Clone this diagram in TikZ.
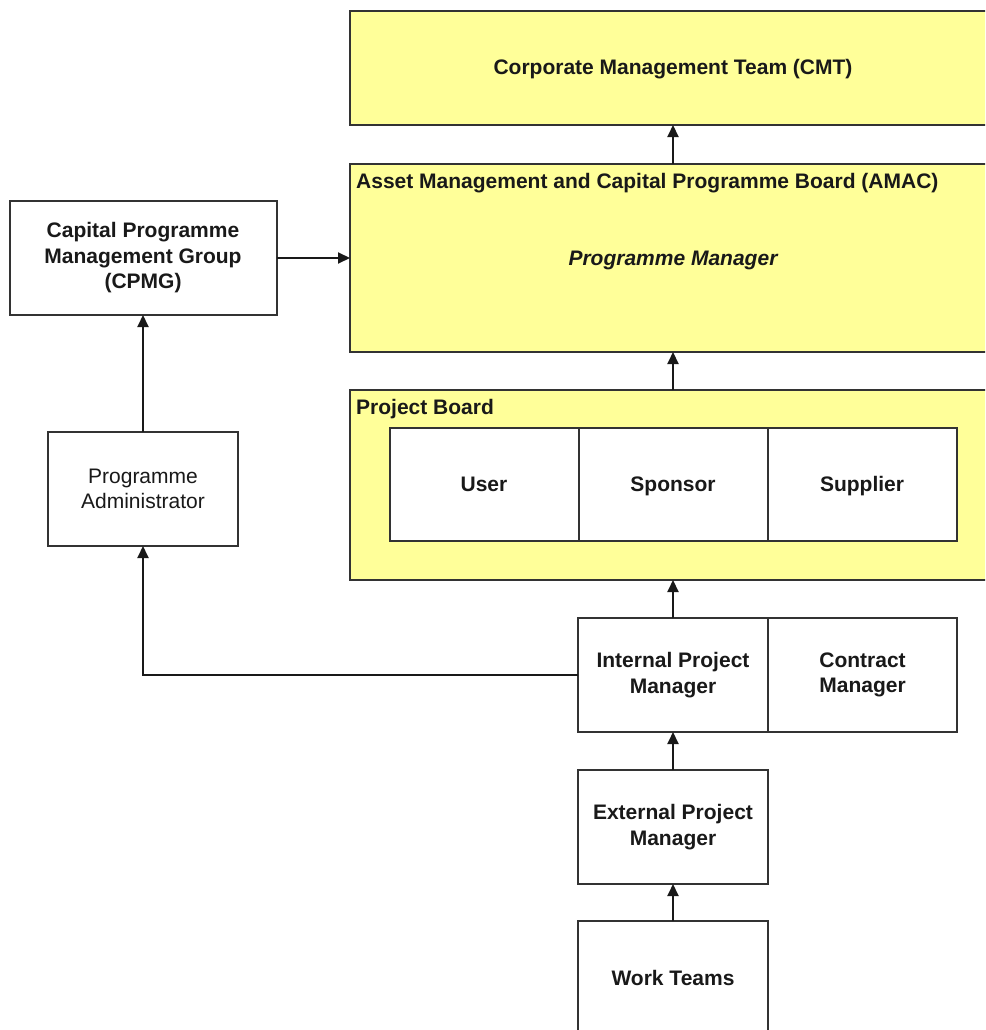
\documentclass[tikz,border=0pt]{standalone}
\usepackage{fontspec}
\setmainfont{Liberation Sans}
\usetikzlibrary{arrows.meta}
\definecolor{boardyellow}{HTML}{FFFF99}
\definecolor{linegray}{HTML}{333333}
\begin{document}
\begin{tikzpicture}[x=1pt,y=-1pt,
 every node/.style={font=\fontsize{21}{25.5}\selectfont\bfseries, text=black!90},
 box/.style={draw=linegray, line width=2pt, fill=white, align=center, inner sep=0pt, outer sep=0pt},
 ybox/.style={box, fill=boardyellow},
 oneline/.style={text height=15pt, text depth=1pt},
 titletext/.style={anchor=base west, inner sep=0pt},
 arr/.style={draw=black!90, line width=2pt, -{Triangle[length=12pt,width=11pt]}}]
\clip (0,0) rectangle (985,1030);
\fill[white] (0,0) rectangle (985,1030);
% yellow boards
\node[ybox, oneline, minimum width=646pt, minimum height=114pt] (cmt) at (673,68) {Corporate Management Team (CMT)};
\node[ybox, oneline, minimum width=646pt, minimum height=188pt] (amac) at (673,258) {\itshape Programme Manager};
\node[titletext] (amact) at (356,188) {Asset Management and Capital Programme Board (AMAC)};
\node[ybox, minimum width=646pt, minimum height=190pt] (pb) at (673,485) {};
\node[titletext] (pbt) at (356,414) {Project Board};
% project board members
\node[box, oneline, minimum width=189pt, minimum height=113pt] (user) at (484,484.5) {User};
\node[box, oneline, minimum width=189pt, minimum height=113pt] (sponsor) at (673,484.5) {Sponsor};
\node[box, oneline, minimum width=189pt, minimum height=113pt] (supplier) at (862,484.5) {Supplier};
% left column
\node[box, minimum width=267pt, minimum height=114pt] (cpmg) at (143,258) {Capital Programme\\Management Group\\(CPMG)};
\node[box, minimum width=190pt, minimum height=114pt, font=\fontsize{21}{25.5}\selectfont] (pa) at (143,489) {Programme\\Administrator};
% project managers
\node[box, minimum width=190pt, minimum height=114pt] (ipm) at (673,675) {Internal Project\\Manager};
\node[box, minimum width=189pt, minimum height=114pt] (cm) at (862.5,675) {Contract\\Manager};
\node[box, minimum width=190pt, minimum height=114pt] (epm) at (673,827) {External Project\\Manager};
\node[box, oneline, minimum width=190pt, minimum height=114pt] (wt) at (673,978) {Work Teams};
% connectors
\draw[arr] (amac.north) -- (cmt.south);
\draw[arr] (cpmg.east) -- (cpmg.east -| amac.west);
\draw[arr] (pa.north) -- (cpmg.south);
\draw[arr] (pb.north) -- (amac.south);
\draw[arr] (ipm.north) -- (ipm.north |- pb.south);
\draw[arr] (epm.north) -- (ipm.south);
\draw[arr] (wt.north) -- (epm.south);
\draw[arr] (ipm.west) -| (pa.south);
\end{tikzpicture}
\end{document}
